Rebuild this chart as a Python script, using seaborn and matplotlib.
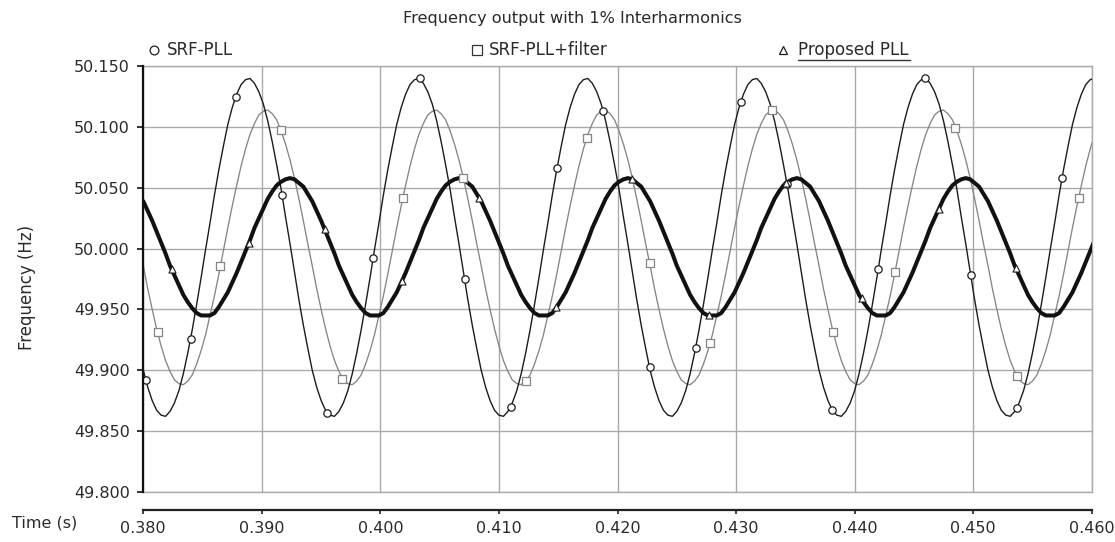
import numpy as np
import matplotlib
matplotlib.use("Agg")
import matplotlib.pyplot as plt
import seaborn as sns
from matplotlib.lines import Line2D
from matplotlib.ticker import MultipleLocator, FormatStrFormatter

# ---------------- data ----------------
time_start = 0.380
time_step = 0.000375

srf_pll = [
    49.900, 49.886, 49.875, 49.867, 49.863, 49.862, 49.866, 49.873, 49.883, 49.897, 49.914, 49.933, 49.954, 49.976, 49.999, 50.021, 50.044, 50.065, 50.084,
    50.102, 50.116, 50.127, 50.135, 50.139, 50.140, 50.136, 50.129, 50.119, 50.105, 50.088, 50.069, 50.049, 50.026, 50.004, 49.981, 49.958, 49.937, 49.918,
    49.900, 49.886, 49.875, 49.867, 49.863, 49.862, 49.866, 49.873, 49.883, 49.897, 49.914, 49.933, 49.954, 49.976, 49.999, 50.021, 50.044, 50.065, 50.084,
    50.102, 50.116, 50.127, 50.135, 50.139, 50.140, 50.136, 50.129, 50.119, 50.105, 50.088, 50.069, 50.049, 50.026, 50.004, 49.981, 49.958, 49.937, 49.918,
    49.900, 49.886, 49.875, 49.867, 49.863, 49.862, 49.866, 49.873, 49.883, 49.897, 49.914, 49.933, 49.954, 49.976, 49.999, 50.021, 50.044, 50.065, 50.084,
    50.102, 50.116, 50.127, 50.135, 50.139, 50.140, 50.136, 50.129, 50.119, 50.105, 50.088, 50.069, 50.049, 50.026, 50.004, 49.981, 49.958, 49.937, 49.918,
    49.900, 49.886, 49.875, 49.867, 49.863, 49.862, 49.866, 49.873, 49.883, 49.897, 49.914, 49.933, 49.954, 49.976, 49.999, 50.021, 50.044, 50.065, 50.084,
    50.102, 50.116, 50.127, 50.135, 50.139, 50.140, 50.136, 50.129, 50.119, 50.105, 50.088, 50.069, 50.049, 50.026, 50.004, 49.981, 49.958, 49.937, 49.918,
    49.900, 49.886, 49.875, 49.867, 49.863, 49.862, 49.866, 49.873, 49.883, 49.897, 49.914, 49.933, 49.954, 49.976, 49.999, 50.021, 50.044, 50.065, 50.084,
    50.102, 50.116, 50.127, 50.135, 50.139, 50.140, 50.136, 50.129, 50.119, 50.105, 50.088, 50.069, 50.049, 50.026, 50.004, 49.981, 49.958, 49.937, 49.918,
    49.900, 49.886, 49.875, 49.867, 49.863, 49.862, 49.866, 49.873, 49.883, 49.897, 49.914, 49.933, 49.954, 49.976, 49.999, 50.021, 50.044, 50.065, 50.084,
    50.102, 50.116, 50.127, 50.135, 50.139, 50.140,
]

srf_pll_filter = [
    49.986, 49.967, 49.950, 49.934, 49.920, 49.908, 49.899, 49.892, 49.889, 49.888, 49.891, 49.896, 49.905, 49.916, 49.929, 49.945, 49.961, 49.979, 49.998,
    50.017, 50.035, 50.052, 50.068, 50.082, 50.094, 50.103, 50.110, 50.113, 50.114, 50.111, 50.106, 50.097, 50.086, 50.073, 50.058, 50.041, 50.023, 50.004,
    49.986, 49.967, 49.950, 49.934, 49.920, 49.908, 49.899, 49.892, 49.889, 49.888, 49.891, 49.896, 49.905, 49.916, 49.929, 49.945, 49.961, 49.979, 49.998,
    50.017, 50.035, 50.052, 50.068, 50.082, 50.094, 50.103, 50.110, 50.113, 50.114, 50.111, 50.106, 50.097, 50.086, 50.073, 50.058, 50.041, 50.023, 50.004,
    49.986, 49.967, 49.950, 49.934, 49.920, 49.908, 49.899, 49.892, 49.889, 49.888, 49.891, 49.896, 49.905, 49.916, 49.929, 49.945, 49.961, 49.979, 49.998,
    50.017, 50.035, 50.052, 50.068, 50.082, 50.094, 50.103, 50.110, 50.113, 50.114, 50.111, 50.106, 50.097, 50.086, 50.073, 50.058, 50.041, 50.023, 50.004,
    49.986, 49.967, 49.950, 49.934, 49.920, 49.908, 49.899, 49.892, 49.889, 49.888, 49.891, 49.896, 49.905, 49.916, 49.929, 49.945, 49.961, 49.979, 49.998,
    50.017, 50.035, 50.052, 50.068, 50.082, 50.094, 50.103, 50.110, 50.113, 50.114, 50.111, 50.106, 50.097, 50.086, 50.073, 50.058, 50.041, 50.023, 50.004,
    49.986, 49.967, 49.950, 49.934, 49.920, 49.908, 49.899, 49.892, 49.889, 49.888, 49.891, 49.896, 49.905, 49.916, 49.929, 49.945, 49.961, 49.979, 49.998,
    50.017, 50.035, 50.052, 50.068, 50.082, 50.094, 50.103, 50.110, 50.113, 50.114, 50.111, 50.106, 50.097, 50.086, 50.073, 50.058, 50.041, 50.023, 50.004,
    49.986, 49.967, 49.950, 49.934, 49.920, 49.908, 49.899, 49.892, 49.889, 49.888, 49.891, 49.896, 49.905, 49.916, 49.929, 49.945, 49.961, 49.979, 49.998,
    50.017, 50.035, 50.052, 50.068, 50.082, 50.094,
]

proposed_pll = [
    50.039, 50.031, 50.023, 50.014, 50.005, 49.996, 49.986, 49.978, 49.970, 49.962, 49.956, 49.951, 49.947, 49.945, 49.945, 49.945, 49.947, 49.952, 49.958,
    49.964, 49.972, 49.980, 49.989, 49.998, 50.007, 50.017, 50.025, 50.033, 50.041, 50.047, 50.052, 50.055, 50.057, 50.058, 50.057, 50.054, 50.051, 50.045,
    50.039, 50.031, 50.023, 50.014, 50.005, 49.996, 49.986, 49.978, 49.970, 49.962, 49.956, 49.951, 49.947, 49.945, 49.945, 49.945, 49.947, 49.952, 49.958,
    49.964, 49.972, 49.980, 49.989, 49.998, 50.007, 50.017, 50.025, 50.033, 50.041, 50.047, 50.052, 50.055, 50.057, 50.058, 50.057, 50.054, 50.051, 50.045,
    50.039, 50.031, 50.023, 50.014, 50.005, 49.996, 49.986, 49.978, 49.970, 49.962, 49.956, 49.951, 49.947, 49.945, 49.945, 49.945, 49.947, 49.952, 49.958,
    49.964, 49.972, 49.980, 49.989, 49.998, 50.007, 50.017, 50.025, 50.033, 50.041, 50.047, 50.052, 50.055, 50.057, 50.058, 50.057, 50.054, 50.051, 50.045,
    50.039, 50.031, 50.023, 50.014, 50.005, 49.996, 49.986, 49.978, 49.970, 49.962, 49.956, 49.951, 49.947, 49.945, 49.945, 49.945, 49.947, 49.952, 49.958,
    49.964, 49.972, 49.980, 49.989, 49.998, 50.007, 50.017, 50.025, 50.033, 50.041, 50.047, 50.052, 50.055, 50.057, 50.058, 50.057, 50.054, 50.051, 50.045,
    50.039, 50.031, 50.023, 50.014, 50.005, 49.996, 49.986, 49.978, 49.970, 49.962, 49.956, 49.951, 49.947, 49.945, 49.945, 49.945, 49.947, 49.952, 49.958,
    49.964, 49.972, 49.980, 49.989, 49.998, 50.007, 50.017, 50.025, 50.033, 50.041, 50.047, 50.052, 50.055, 50.057, 50.058, 50.057, 50.054, 50.051, 50.045,
    50.039, 50.031, 50.023, 50.014, 50.005, 49.996, 49.986, 49.978, 49.970, 49.962, 49.956, 49.951, 49.947, 49.945, 49.945, 49.945, 49.947, 49.952, 49.958,
    49.964, 49.972, 49.980, 49.989, 49.998, 50.007,
]

# sparse marker points on each curve
srf_marker_t = [0.3802, 0.3840, 0.3878, 0.3917, 0.3955, 0.3994, 0.4033, 0.4071, 0.4110, 0.4149, 0.4188,
                0.4227, 0.4266, 0.4304, 0.4343, 0.4381, 0.4420, 0.4459, 0.4498, 0.4537, 0.4575]
srf_marker_f = [49.892, 49.926, 50.125, 50.044, 49.865, 49.992, 50.140, 49.975, 49.870, 50.066, 50.113,
                49.903, 49.918, 50.121, 50.053, 49.867, 49.983, 50.140, 49.978, 49.869, 50.058]

filt_marker_t = [0.3812, 0.3865, 0.3916, 0.3968, 0.4019, 0.4070, 0.4123, 0.4174, 0.4227, 0.4278, 0.4330,
                 0.4382, 0.4434, 0.4485, 0.4537, 0.4589]
filt_marker_f = [49.931, 49.986, 50.098, 49.893, 50.042, 50.058, 49.891, 50.091, 49.988, 49.922, 50.114,
                 49.931, 49.981, 50.099, 49.895, 50.042]

prop_marker_t = [0.3824, 0.3889, 0.3953, 0.4018, 0.4083, 0.4148, 0.4212, 0.4277, 0.4342, 0.4406, 0.4471, 0.4536]
prop_marker_f = [49.983, 50.005, 50.016, 49.973, 50.042, 49.952, 50.057, 49.945, 50.054, 49.959, 50.033, 49.984]

series_names = ["SRF-PLL", "SRF-PLL+filter", "Proposed PLL"]
x_ticks = [0.380, 0.390, 0.400, 0.410, 0.420, 0.430, 0.440, 0.450, 0.460]
y_ticks = [49.800, 49.850, 49.900, 49.950, 50.000, 50.050, 50.100, 50.150]
title_text = "Frequency output with 1% Interharmonics"

time_s = time_start + time_step * np.arange(len(srf_pll))

# ---------------- drawing ----------------
sns.set_theme(style="white")
plt.rcParams["font.family"] = ["DejaVu Sans"]
TXT = "#2a2a2a"

W, H = 1115, 542
fig = plt.figure(figsize=(W / 100, H / 100), dpi=100)
L, R, T, B = 143.3, 1091.7, 66.3, 491.7
ax = fig.add_axes([L / W, 1 - B / H, (R - L) / W, (B - T) / H])

BLACK = "#1c1c1c"
GRAY = "#858585"

sns.lineplot(x=time_s, y=srf_pll_filter, ax=ax, color=GRAY, linewidth=0.95,
             estimator=None, sort=False, legend=False, zorder=3)
sns.lineplot(x=time_s, y=srf_pll, ax=ax, color=BLACK, linewidth=1.0,
             estimator=None, sort=False, legend=False, zorder=3)
sns.lineplot(x=time_s, y=proposed_pll, ax=ax, color="#111111", linewidth=2.9,
             estimator=None, sort=False, legend=False, zorder=4)

sns.scatterplot(x=filt_marker_t, y=filt_marker_f, ax=ax, marker="s", s=40,
                color="white", edgecolor=GRAY, linewidth=0.9, zorder=6, legend=False)
sns.scatterplot(x=srf_marker_t, y=srf_marker_f, ax=ax, marker="o", s=28,
                color="white", edgecolor=BLACK, linewidth=0.9, zorder=6, legend=False)
sns.scatterplot(x=prop_marker_t, y=prop_marker_f, ax=ax, marker="^", s=26,
                color="white", edgecolor=BLACK, linewidth=0.8, zorder=6, legend=False)

ax.set_xlim(x_ticks[0], x_ticks[-1])
ax.set_ylim(y_ticks[0], y_ticks[-1])
ax.set_xticks(x_ticks)
ax.set_yticks(y_ticks)
ax.xaxis.set_major_formatter(FormatStrFormatter("%.3f"))
ax.yaxis.set_major_formatter(FormatStrFormatter("%.3f"))

GRID = "#a9a9a9"
ax.grid(True, color=GRID, linewidth=1.0)
ax.set_axisbelow(True)
ax.axhline(y_ticks[0], color=GRID, linewidth=1.0, clip_on=False, zorder=1)

for side in ("top", "right"):
    ax.spines[side].set_color(GRID)
    ax.spines[side].set_linewidth(1.0)
ax.spines["left"].set_color("#111111")
ax.spines["left"].set_linewidth(1.6)
ax.spines["left"].set_zorder(7)
ax.spines["bottom"].set_position(("outward", 13))
ax.spines["bottom"].set_color("#222222")
ax.spines["bottom"].set_linewidth(1.6)

ax.tick_params(axis="y", direction="out", length=4.3, width=1.2, color="#111111",
               pad=5.5, labelsize=11.5, labelcolor=TXT, left=True)
ax.tick_params(axis="x", direction="out", length=3.0, width=1.2, color="#222222",
               pad=5.0, labelsize=11.5, labelcolor=TXT, bottom=True)
ax.set_xlabel("")
ax.set_ylabel("")

# axis titles placed like the reference
fig.text(27 / W, 1 - 287 / H, "Frequency (Hz)", rotation=90, ha="center", va="center",
         fontsize=12, color=TXT)
fig.text(45 / W, 1 - 523 / H, "Time (s)", ha="center", va="center", fontsize=11.5, color=TXT)

# title
fig.text(572 / W, 1 - 18 / H, title_text, ha="center", va="center", fontsize=11.6, color=TXT)

# legend row above the plot
leg_y = 1 - 50 / H
leg_items = [
    (154, 167, "o", BLACK, 40),
    (477, 489, "s", GRAY, 48),
    (783, 798, "^", BLACK, 38),
]
for (mx, tx, mk, ec, ms), name in zip(leg_items, series_names):
    fig.add_artist(Line2D([mx / W], [leg_y], marker=mk, markersize=np.sqrt(ms),
                          markerfacecolor="white", markeredgecolor=ec if mk != "s" else "#333333",
                          markeredgewidth=0.9, linestyle="none", transform=fig.transFigure))
    fig.text(tx / W, leg_y, name, ha="left", va="center", fontsize=12, color=TXT)

# underline below "Proposed PLL"
fig.add_artist(Line2D([798 / W, 910 / W], [1 - 60 / H, 1 - 60 / H], color="#333333",
                      linewidth=1.0, transform=fig.transFigure))

fig.savefig("out.png", dpi=100)
